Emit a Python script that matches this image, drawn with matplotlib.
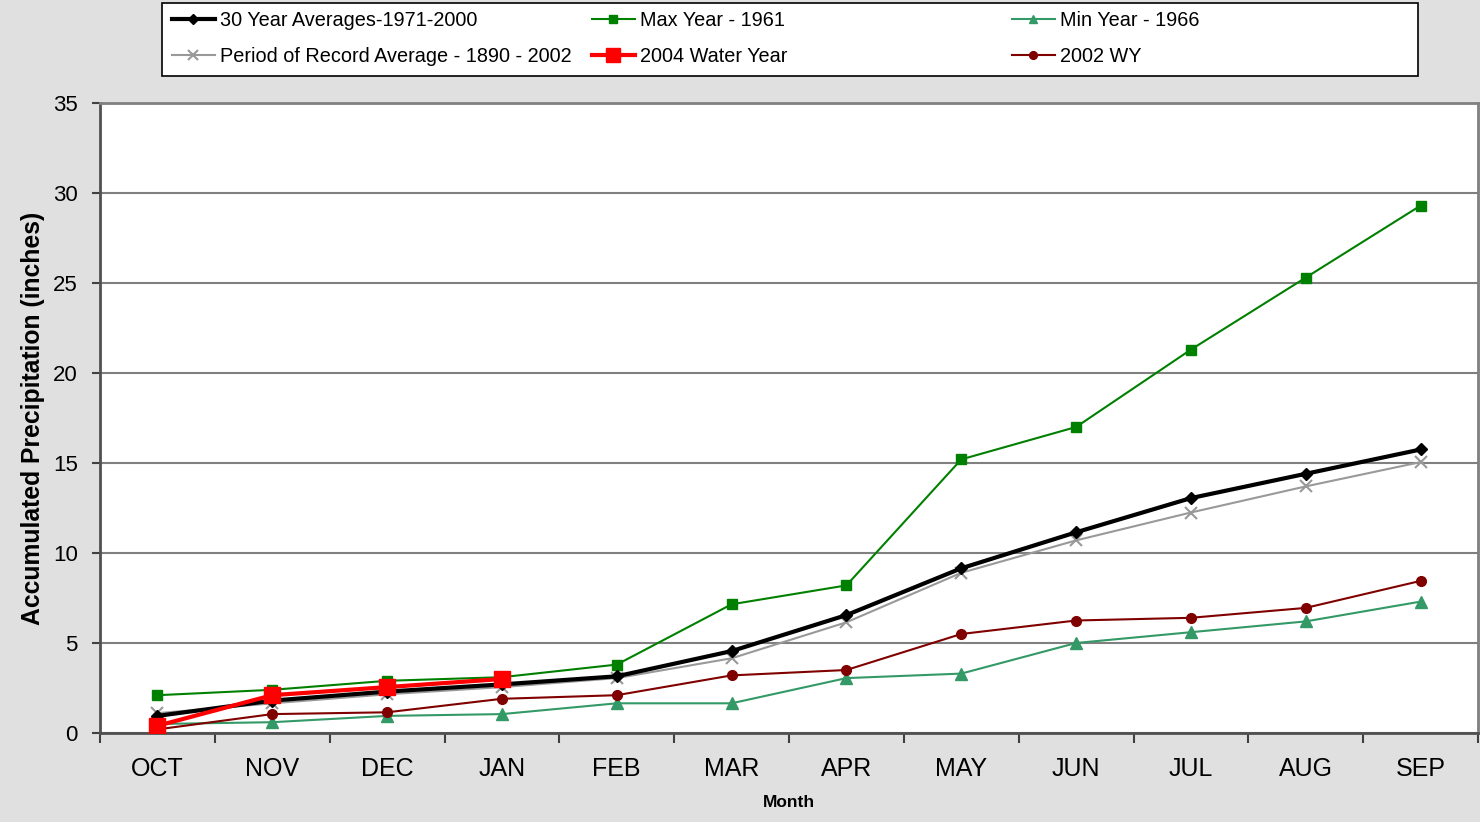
import matplotlib
matplotlib.use('Agg')
import matplotlib.pyplot as plt
import matplotlib.patches as mpatches
import numpy as np

# ===== DATA (inches, accumulated) =====
MONTHS = ["OCT", "NOV", "DEC", "JAN", "FEB", "MAR", "APR", "MAY", "JUN", "JUL", "AUG", "SEP"]

avg_30yr = [0.95, 1.8, 2.3, 2.7, 3.15, 4.55, 6.55, 9.15, 11.15, 13.05, 14.4, 15.75]
max_1961 = [2.1, 2.4, 2.9, 3.1, 3.8, 7.15, 8.2, 15.2, 17.0, 21.3, 25.3, 29.3]
min_1966 = [0.5, 0.6, 0.95, 1.05, 1.65, 1.65, 3.05, 3.3, 5.0, 5.6, 6.2, 7.3]
por_avg = [1.1, 1.65, 2.15, 2.55, 3.05, 4.15, 6.15, 8.9, 10.7, 12.25, 13.7, 15.05]
wy_2004 = [0.4, 2.1, 2.55, 3.0]
wy_2002 = [0.2, 1.05, 1.15, 1.9, 2.1, 3.2, 3.5, 5.5, 6.25, 6.4, 6.95, 8.45]

plt.rcParams['font.family'] = ['Liberation Sans', 'DejaVu Sans']

fig = plt.figure(figsize=(14.8, 8.22), dpi=100, facecolor='#e0e0e0')
ax = fig.add_axes([100/1480, 1-733/822, 1378/1480, 630/822])
ax.set_facecolor('white')

x = np.arange(len(MONTHS))

l_avg, = ax.plot(x, avg_30yr, '-D', color='black', lw=3, ms=6, label="30 Year Averages-1971-2000", zorder=4)
l_max, = ax.plot(x, max_1961, '-s', color='#008000', lw=1.5, ms=7, label="Max Year - 1961", zorder=3)
l_min, = ax.plot(x, min_1966, '-^', color='#339966', lw=1.5, ms=8, label="Min Year - 1966", zorder=3)
l_por, = ax.plot(x, por_avg, '-x', color='#999999', lw=1.5, ms=9, mew=1.5,
                 label="Period of Record Average - 1890 - 2002", zorder=3)
l_04, = ax.plot(x[:len(wy_2004)], wy_2004, '-s', color='#ff0000', lw=3, ms=12,
                label="2004 Water Year", zorder=6)
l_02, = ax.plot(x, wy_2002, '-o', color='#800000', lw=1.5, ms=7, label="2002 WY", zorder=5)

ax.set_xlim(-0.5, len(MONTHS) - 0.5)
ax.set_ylim(0, 35)
ax.set_yticks(np.arange(0, 36, 5))
ax.yaxis.grid(True, color='#808080', lw=1.5)
ax.set_axisbelow(True)

ax.set_xticks(x)
ax.set_xticklabels(MONTHS, fontsize=18)
ax.set_xticks(np.arange(-0.5, len(MONTHS), 1), minor=True)
ax.tick_params(axis='x', which='major', length=0, pad=17)
ax.tick_params(axis='x', which='minor', length=7, width=1.5, color='#404040', direction='out')
ax.tick_params(axis='y', length=6, width=1.5, color='#404040', labelsize=16, pad=10)

for s in ['left', 'bottom']:
    ax.spines[s].set_color('#505050')
    ax.spines[s].set_linewidth(2)
for s in ['top', 'right']:
    ax.spines[s].set_color('#808080')
    ax.spines[s].set_linewidth(2)

ax.set_ylabel("Accumulated Precipitation (inches)", fontsize=17.8, fontweight='bold', labelpad=6)
ax.set_xlabel("Month", fontsize=12.5, fontweight='bold', labelpad=10)

# legend frame + three columns
fig.patches.append(mpatches.Rectangle((162/1480, 1-76/822), 1256/1480, 73/822,
                                      transform=fig.transFigure, facecolor='white',
                                      edgecolor='black', lw=1.2, zorder=0))
cols = [([l_avg, l_por], 172), ([l_max, l_04], 592), ([l_min, l_02], 1012)]
for handles, px in cols:
    fig.legend(handles=handles, loc='upper left', bbox_to_anchor=(px/1480, 1-11/822),
               frameon=False, fontsize=14.3, handlelength=2.15, handletextpad=0.25,
               labelspacing=0.85, borderpad=0, borderaxespad=0, markerscale=0.8)

fig.savefig('out.png', dpi=100, facecolor=fig.get_facecolor())
